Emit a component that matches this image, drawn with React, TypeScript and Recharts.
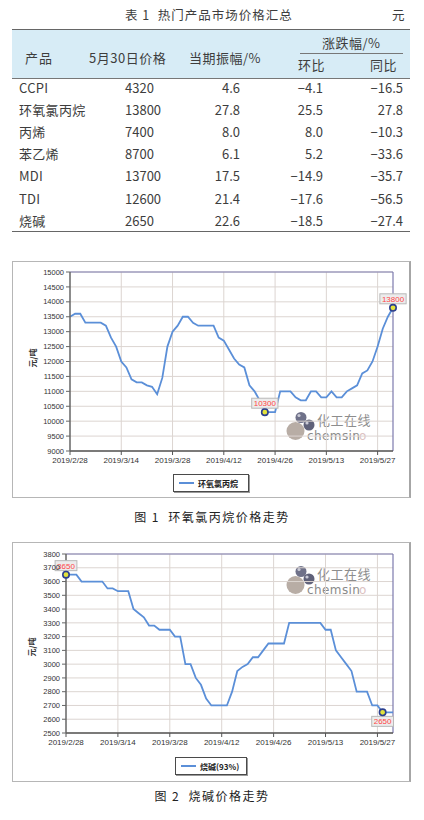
import React from 'react';
import { LineChart, Line, XAxis, YAxis, CartesianGrid, ReferenceLine } from 'recharts';

// table 1
const products = ['CCPI', '环氧氯丙烷', '丙烯', '苯乙烯', 'MDI', 'TDI', '烧碱'];
const prices = [4320, 13800, 7400, 8700, 13700, 12600, 2650];
const amplitudes = [4.6, 27.8, 8.0, 6.1, 17.5, 21.4, 22.6];
const momChanges = [-4.1, 25.5, 8.0, 5.2, -14.9, -17.6, -18.5];
const yoyChanges = [-16.5, 27.8, -10.3, -33.6, -35.7, -56.5, -27.4];

// trading days 2019/2/28 .. 2019/5/30
const dates = [
  '2019/2/28', '2019/3/1', '2019/3/4', '2019/3/5', '2019/3/6', '2019/3/7', '2019/3/8', '2019/3/11', '2019/3/12', '2019/3/13',
  '2019/3/14', '2019/3/15', '2019/3/18', '2019/3/19', '2019/3/20', '2019/3/21', '2019/3/22', '2019/3/25', '2019/3/26', '2019/3/27',
  '2019/3/28', '2019/3/29', '2019/4/1', '2019/4/2', '2019/4/3', '2019/4/4', '2019/4/8', '2019/4/9', '2019/4/10', '2019/4/11',
  '2019/4/12', '2019/4/15', '2019/4/16', '2019/4/17', '2019/4/18', '2019/4/19', '2019/4/22', '2019/4/23', '2019/4/24', '2019/4/25',
  '2019/4/26', '2019/4/28', '2019/4/29', '2019/4/30', '2019/5/5', '2019/5/6', '2019/5/7', '2019/5/8', '2019/5/9', '2019/5/10',
  '2019/5/13', '2019/5/14', '2019/5/15', '2019/5/16', '2019/5/17', '2019/5/20', '2019/5/21', '2019/5/22', '2019/5/23', '2019/5/24',
  '2019/5/27', '2019/5/28', '2019/5/29', '2019/5/30',
];
const dateTicks = ['2019/2/28', '2019/3/14', '2019/3/28', '2019/4/12', '2019/4/26', '2019/5/13', '2019/5/27'];

// 环氧氯丙烷, 元/吨
const echPrices = [
  13500, 13600, 13600, 13300, 13300, 13300, 13300, 13200, 12800, 12500,
  12000, 11800, 11400, 11300, 11300, 11200, 11150, 10900, 11450, 12500,
  13000, 13200, 13500, 13500, 13300, 13200, 13200, 13200, 13200, 12800,
  12700, 12400, 12100, 11900, 11800, 11200, 11000, 10700, 10300, 10300,
  10300, 11000, 11000, 11000, 10800, 10700, 10700, 11000, 11000, 10800,
  10800, 11000, 10800, 10800, 11000, 11100, 11200, 11600, 11700, 12000,
  12500, 13100, 13500, 13800,
];
const echTicks = [9000, 9500, 10000, 10500, 11000, 11500, 12000, 12500, 13000, 13500, 14000, 14500, 15000];

// 烧碱(93%), 元/吨
const causticPrices = [
  3650, 3650, 3650, 3600, 3600, 3600, 3600, 3600, 3550, 3550,
  3530, 3530, 3530, 3400, 3370, 3340, 3280, 3280, 3250, 3250,
  3250, 3200, 3200, 3000, 3000, 2900, 2850, 2750, 2700, 2700,
  2700, 2700, 2800, 2950, 2980, 3000, 3050, 3050, 3100, 3150,
  3150, 3150, 3150, 3300, 3300, 3300, 3300, 3300, 3300, 3300,
  3250, 3250, 3100, 3050, 3000, 2950, 2800, 2800, 2800, 2700,
  2700, 2650, 2650, 2650,
];
const causticTicks = [2500, 2600, 2700, 2800, 2900, 3000, 3100, 3200, 3300, 3400, 3500, 3600, 3700, 3800];

const LINE_BLUE = '#5b8fd8';
const GRID = '#dcd5d1';
const FRAME = '#7c7aae';
const CJK = '"Noto Sans CJK SC", "Noto Sans", sans-serif';
const ARIAL = '"Liberation Sans", Arial, sans-serif';

const fmt = (v: number) => v.toFixed(1).replace('-', '−');

function Txt({ x, cy, right, size = 13, children, style }: any) {
  const h = size + 6;
  const pos: any = right ? { right: 424 - x } : { left: x };
  return (
    <div style={{ position: 'absolute', top: cy - h / 2, height: h, lineHeight: `${h}px`, fontSize: size, whiteSpace: 'pre', ...pos, ...style }}>
      {children}
    </div>
  );
}

function PriceTable() {
  const rowY = (i: number) => 87 + i * 22.2;
  return (
    <>
      <Txt x={125} cy={15} size={12.5} style={{ letterSpacing: 1 }}>表 1  热门产品市场价格汇总</Txt>
      <Txt x={392} cy={15} size={12.5}>元</Txt>
      <div style={{ position: 'absolute', left: 12, top: 30, width: 398, height: 48, background: '#d7ecf6' }} />
      <div style={{ position: 'absolute', left: 12, top: 29, width: 398, height: 0, borderTop: '1.5px solid #666' }} />
      <div style={{ position: 'absolute', left: 300, top: 53, width: 103, height: 0, borderTop: '1px solid #777' }} />
      <div style={{ position: 'absolute', left: 12, top: 78, width: 398, height: 0, borderTop: '1px solid #777' }} />
      <div style={{ position: 'absolute', left: 12, top: 231, width: 398, height: 0, borderTop: '1.5px solid #666' }} />
      <Txt x={25} cy={57} style={{ letterSpacing: 1 }}>产品</Txt>
      <Txt x={89} cy={57} style={{ letterSpacing: 0.5 }}>5月30日价格</Txt>
      <Txt x={189} cy={57} style={{ letterSpacing: 0.5 }}>当期振幅/%</Txt>
      <Txt x={322} cy={42} style={{ letterSpacing: 0.5 }}>涨跌幅/%</Txt>
      <Txt x={298} cy={64} style={{ letterSpacing: 0.5 }}>环比</Txt>
      <Txt x={370} cy={64} style={{ letterSpacing: 0.5 }}>同比</Txt>
      {products.map((p, i) => (
        <React.Fragment key={p}>
          <Txt x={19} cy={rowY(i)} style={{ letterSpacing: 0.3 }}>{p}</Txt>
          <Txt x={125} cy={rowY(i)}>{String(prices[i])}</Txt>
          <Txt x={240} cy={rowY(i)} right>{fmt(amplitudes[i])}</Txt>
          <Txt x={323} cy={rowY(i)} right>{fmt(momChanges[i])}</Txt>
          <Txt x={403} cy={rowY(i)} right>{fmt(yoyChanges[i])}</Txt>
        </React.Fragment>
      ))}
    </>
  );
}

function Watermark({ left, top }: { left: number; top: number }) {
  const latin = { position: 'absolute' as const, top: 19, fontSize: 12, lineHeight: '12px', fontFamily: '"DejaVu Sans", sans-serif', letterSpacing: 0.4, whiteSpace: 'nowrap' as const };
  return (
    <div style={{ position: 'absolute', left, top, width: 90, height: 32 }}>
      <svg width={32} height={32} style={{ position: 'absolute', left: 0, top: 0 }}>
        <circle cx={9.5} cy={20} r={9} fill="#b8ada5" />
        <circle cx={15} cy={6.5} r={5.5} fill="#6f7189" />
        <circle cx={23} cy={14} r={5.5} fill="#5f6179" />
        <circle cx={13} cy={4.5} r={1.6} fill="#c9cad6" />
        <circle cx={21} cy={12} r={1.6} fill="#c9cad6" />
      </svg>
      <div style={{ position: 'absolute', left: 31, top: 2, fontSize: 13, lineHeight: '13px', color: '#8d8d8d', letterSpacing: 0.5, whiteSpace: 'nowrap' }}>化工在线</div>
      <div style={{ ...latin, left: 21, color: '#8a8a8a' }}>chemsin</div>
      <div style={{ ...latin, left: 73, color: '#dcc2c2' }}>o</div>
    </div>
  );
}

type Mark = { index: number; side: 'top' | 'bottom' };

function PricePanel(props: {
  values: number[];
  seriesName: string;
  yTicks: number[];
  top: number;
  height: number;
  yAxisWidth: number;
  marginTop: number;
  marginBottom: number;
  marks: Mark[];
  legendLeft: number;
  legendTop: number;
  legendWidth: number;
  logo: { left: number; top: number };
  yTitle: { x: number; y: number };
}) {
  const { values, yTicks, marks } = props;
  const data = dates.map((date, i) => ({ date, price: values[i] }));

  const renderDot = (p: any) => {
    const m = marks.find((mk) => mk.index === p.index);
    if (!m) return <g key={`d-${p.index}`} />;
    const label = String(p.value);
    const w = label.length * 4.45 + 4;
    const by = m.side === 'top' ? p.cy - 14 : p.cy + 4;
    return (
      <g key={`d-${p.index}`}>
        <rect x={p.cx - w / 2} y={by} width={w} height={10} fill="#ececec" stroke="#b9b9b9" strokeWidth={1} />
        <text x={p.cx} y={by + 8} textAnchor="middle" fontSize={8} fontFamily={ARIAL} fill="#ff4646">{label}</text>
        <circle cx={p.cx} cy={p.cy} r={3.2} fill="#e2e23c" stroke="#2c3f8e" strokeWidth={1.6} />
      </g>
    );
  };

  return (
    <>
      <div
        style={{
          position: 'absolute', left: 12, top: props.top, width: 399, height: props.height, boxSizing: 'border-box',
          border: '1px solid #b6b6b6', borderRight: '2px solid #a6a6a6', background: '#fff',
        }}
      />
      <Watermark left={props.logo.left} top={props.logo.top} />
      <div style={{ position: 'absolute', left: 0, top: props.top }}>
        <LineChart
          width={424}
          height={props.height}
          data={data}
          margin={{ top: props.marginTop, right: 31, left: 0, bottom: props.marginBottom }}
        >
          <CartesianGrid vertical={false} stroke={GRID} />
          {dateTicks.slice(1).map((d) => (
            <ReferenceLine key={d} x={d} stroke={GRID} />
          ))}
          <ReferenceLine y={yTicks[yTicks.length - 1]} stroke={FRAME} strokeWidth={1.2} />
          <ReferenceLine x={dates[dates.length - 1]} stroke={FRAME} strokeWidth={1.2} />
          <XAxis
            dataKey="date"
            scale="point"
            ticks={dateTicks}
            interval={0}
            height={20}
            tickSize={4}
            axisLine={{ stroke: '#555', strokeWidth: 1.5 }}
            tickLine={{ stroke: '#555' }}
            tick={{ fontSize: 8, fill: '#333', fontFamily: ARIAL }}
          />
          <YAxis
            type="number"
            domain={[yTicks[0], yTicks[yTicks.length - 1]]}
            ticks={yTicks}
            interval={0}
            width={props.yAxisWidth}
            tickSize={4}
            axisLine={{ stroke: '#666', strokeWidth: 1.5 }}
            tickLine={{ stroke: '#666' }}
            tick={{ fontSize: 7.5, fill: '#333', fontFamily: ARIAL }}
          />
          <Line
            dataKey="price"
            name={props.seriesName}
            type="linear"
            stroke={LINE_BLUE}
            strokeWidth={1.8}
            dot={renderDot}
            activeDot={false}
            isAnimationActive={false}
          />
        </LineChart>
      </div>
      <div
        style={{
          position: 'absolute', left: props.yTitle.x, top: props.yTitle.y, transform: 'translate(-50%, -50%) rotate(-90deg)',
          fontSize: 8, fontWeight: 'bold', color: '#333', whiteSpace: 'nowrap', lineHeight: '10px',
        }}
      >
        元/吨
      </div>
      <div
        style={{
          position: 'absolute', left: props.legendLeft, top: props.legendTop, width: props.legendWidth, height: 18,
          boxSizing: 'border-box', border: '1px solid #4a4a4a', boxShadow: '1px 1px 0 #9a9a9a', background: '#fff',
          display: 'flex', alignItems: 'center', paddingLeft: 5,
        }}
      >
        <div style={{ width: 15, height: 2, background: LINE_BLUE, marginRight: 4 }} />
        <span style={{ fontSize: 8, fontWeight: 'bold', color: '#222', whiteSpace: 'nowrap' }}>{props.seriesName}</span>
      </div>
    </>
  );
}

const argMax = (a: number[]) => a.indexOf(Math.max(...a));
const argMin = (a: number[]) => a.indexOf(Math.min(...a));

export default function App() {
  return (
    <div
      style={{
        position: 'absolute', left: 0, top: 0, width: 424, height: 820, overflow: 'hidden',
        background: '#fff', fontFamily: CJK, color: '#3d3d3d',
      }}
    >
      <PriceTable />
      <PricePanel
        values={echPrices}
        seriesName="环氧氯丙烷"
        yTicks={echTicks}
        top={261}
        height={237}
        yAxisWidth={70}
        marginTop={11}
        marginBottom={27}
        marks={[{ index: argMin(echPrices), side: 'top' }, { index: argMax(echPrices), side: 'top' }]}
        legendLeft={173}
        legendTop={474}
        legendWidth={76}
        logo={{ left: 286, top: 411 }}
        yTitle={{ x: 33, y: 358 }}
      />
      <Txt x={0} cy={517} size={12} style={{ width: 424, textAlign: 'center', letterSpacing: 1.5, color: '#222' }}>图 1  环氧氯丙烷价格走势</Txt>
      <PricePanel
        values={causticPrices}
        seriesName="烧碱(93%)"
        yTicks={causticTicks}
        top={542}
        height={240}
        yAxisWidth={66}
        marginTop={12}
        marginBottom={29}
        marks={[{ index: argMax(causticPrices), side: 'top' }, { index: argMin(causticPrices), side: 'bottom' }]}
        legendLeft={175}
        legendTop={757}
        legendWidth={72}
        logo={{ left: 286, top: 565 }}
        yTitle={{ x: 32, y: 647 }}
      />
      <Txt x={0} cy={796} size={12} style={{ width: 424, textAlign: 'center', letterSpacing: 1.5, color: '#222' }}>图 2  烧碱价格走势</Txt>
    </div>
  );
}
